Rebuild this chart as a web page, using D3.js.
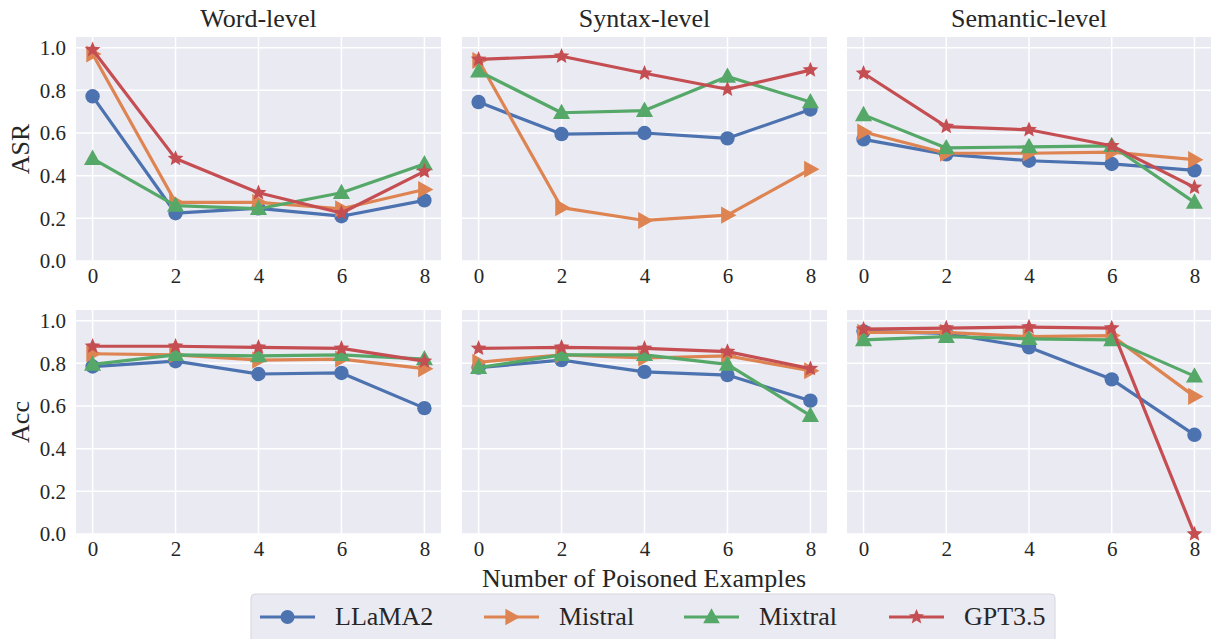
<!DOCTYPE html>
<html><head><meta charset="utf-8">
<script src="https://cdn.jsdelivr.net/npm/d3@7"></script>
<style>body{margin:0;background:#fff;} svg, svg text{font-family:'Liberation Serif','Times New Roman',Times,serif !important;}</style>
</head><body><svg id="c" width="1212" height="639"></svg>
<script>
const xs = [0, 2, 4, 6, 8];
const models = ["LLaMA2", "Mistral", "Mixtral", "GPT3.5"];
const levels = ["Word-level", "Syntax-level", "Semantic-level"];
const metrics = ["ASR", "Acc"];
const yTicks = [0.0, 0.2, 0.4, 0.6, 0.8, 1.0];
const colors = ["#4C72B0", "#DD8452", "#55A868", "#C44E52"];
const markers = ["circle", "right", "up", "star"];

// ASR
const asrWord = {
  LLaMA2: [0.772, 0.224, 0.247, 0.21, 0.284],
  Mistral: [0.97, 0.275, 0.275, 0.245, 0.335],
  Mixtral: [0.48, 0.26, 0.245, 0.32, 0.455],
  "GPT3.5": [0.99, 0.48, 0.32, 0.225, 0.42]
};
const asrSyntax = {
  LLaMA2: [0.745, 0.595, 0.60, 0.575, 0.71],
  Mistral: [0.94, 0.25, 0.19, 0.215, 0.43],
  Mixtral: [0.89, 0.695, 0.705, 0.865, 0.745],
  "GPT3.5": [0.945, 0.96, 0.88, 0.805, 0.895]
};
const asrSemantic = {
  LLaMA2: [0.57, 0.5, 0.47, 0.455, 0.425],
  Mistral: [0.605, 0.505, 0.505, 0.51, 0.475],
  Mixtral: [0.685, 0.53, 0.535, 0.54, 0.275],
  "GPT3.5": [0.88, 0.63, 0.615, 0.54, 0.345]
};
// Acc
const accWord = {
  LLaMA2: [0.785, 0.81, 0.75, 0.755, 0.59],
  Mistral: [0.845, 0.84, 0.815, 0.82, 0.775],
  Mixtral: [0.795, 0.84, 0.835, 0.84, 0.82],
  "GPT3.5": [0.88, 0.88, 0.875, 0.87, 0.81]
};
const accSyntax = {
  LLaMA2: [0.78, 0.815, 0.76, 0.745, 0.625],
  Mistral: [0.805, 0.84, 0.825, 0.835, 0.765],
  Mixtral: [0.78, 0.84, 0.84, 0.795, 0.555],
  "GPT3.5": [0.87, 0.875, 0.87, 0.855, 0.775]
};
const accSemantic = {
  LLaMA2: [0.95, 0.94, 0.875, 0.725, 0.465],
  Mistral: [0.945, 0.945, 0.925, 0.93, 0.645],
  Mixtral: [0.91, 0.925, 0.915, 0.91, 0.74],
  "GPT3.5": [0.96, 0.965, 0.97, 0.965, 0.0]
};
const panels = [[asrWord, asrSyntax, asrSemantic], [accWord, accSyntax, accSemantic]];

const svg = d3.select("#c");
const colX = [[76, 441], [462, 827], [847, 1211]];
const rowY = [[37, 261], [310, 534]];
const FF = "'Liberation Serif','Times New Roman',Times,serif";

function markerPath(type, size) {
  if (type === "circle") return d3.symbol(d3.symbolCircle, size * size * Math.PI)();
  if (type === "star") {
    const R = size * 1.15, r = R * 0.45; let p = [];
    for (let i = 0; i < 10; i++) {
      const a = -Math.PI / 2 + i * Math.PI / 5, rr = i % 2 ? r : R;
      p.push([rr * Math.cos(a), rr * Math.sin(a)]);
    }
    return "M" + p.map(d => d.join(",")).join("L") + "Z";
  }
  const s = size * 1.25;
  if (type === "up") return `M0,${-s}L${s*0.95},${s*0.7}L${-s*0.95},${s*0.7}Z`;
  if (type === "right") return `M${s},0L${-s*0.7},${s*0.95}L${-s*0.7},${-s*0.95}Z`;
}

panels.forEach((row, ri) => {
  row.forEach((data, ci) => {
    const x = d3.scaleLinear().domain([-0.4, 8.4]).range(colX[ci]);
    const y = d3.scaleLinear().domain([0, 1.05]).range([rowY[ri][1], rowY[ri][0]]);
    const g = svg.append("g");
    g.append("rect").attr("x", colX[ci][0]).attr("y", rowY[ri][0])
      .attr("width", colX[ci][1] - colX[ci][0]).attr("height", rowY[ri][1] - rowY[ri][0])
      .attr("fill", "#EAEAF2");
    g.selectAll(".gy").data(yTicks).join("line")
      .attr("x1", colX[ci][0]).attr("x2", colX[ci][1])
      .attr("y1", d => y(d)).attr("y2", d => y(d))
      .attr("stroke", "#fff").attr("stroke-width", 1.5);
    g.selectAll(".gx").data(xs).join("line")
      .attr("x1", d => x(d)).attr("x2", d => x(d))
      .attr("y1", rowY[ri][0]).attr("y2", rowY[ri][1])
      .attr("stroke", "#fff").attr("stroke-width", 1.5);
    const xa = g.append("g").attr("transform", `translate(0,${rowY[ri][1] + 5})`)
      .call(d3.axisBottom(x).tickValues(xs).tickSize(0).tickPadding(2).tickFormat(d3.format("d")));
    xa.attr("font-family", FF).attr("font-size", 21);
    xa.select(".domain").remove();
    xa.selectAll("text").attr("fill", "#262626");
    if (ci === 0) {
      const ya = g.append("g").attr("transform", `translate(${colX[ci][0] - 8},0)`)
        .call(d3.axisLeft(y).tickValues(yTicks).tickSize(0).tickPadding(2).tickFormat(d3.format(".1f")));
      ya.attr("font-family", FF).attr("font-size", 21);
      ya.select(".domain").remove();
      ya.selectAll("text").attr("fill", "#262626");
      svg.append("text").attr("transform", `translate(29,${(rowY[ri][0] + rowY[ri][1]) / 2}) rotate(-90)`)
        .attr("text-anchor", "middle").attr("font-size", 26).attr("fill", "#262626").text(metrics[ri]);
    }
    if (ri === 0) {
      svg.append("text").attr("x", (colX[ci][0] + colX[ci][1]) / 2).attr("y", 27)
        .attr("text-anchor", "middle").attr("font-size", 26).attr("fill", "#262626").text(levels[ci]);
    }
    const line = d3.line().x((d, i) => x(xs[i])).y(d => y(d));
    models.forEach((m, mi) => {
      const vals = data[m];
      g.append("path").attr("d", line(vals)).attr("fill", "none")
        .attr("stroke", colors[mi]).attr("stroke-width", 3.2).attr("stroke-linejoin", "round");
      g.selectAll(".m" + mi).data(vals).join("path")
        .attr("transform", (d, i) => `translate(${x(xs[i])},${y(d)})`)
        .attr("d", markerPath(markers[mi], 7.2)).attr("fill", colors[mi]);
    });
  });
});

svg.append("text").attr("x", 644).attr("y", 587).attr("text-anchor", "middle")
  .attr("font-size", 26).attr("fill", "#262626").text("Number of Poisoned Examples");

const lg = svg.append("g");
lg.append("rect").attr("x", 251).attr("y", 594).attr("width", 804).attr("height", 56).attr("rx", 4)
  .attr("fill", "#EAEAF2").attr("stroke", "#d5d5dc").attr("stroke-width", 1);
const legX = [260, 484, 684, 889];
models.forEach((m, mi) => {
  const lx = legX[mi], ly = 617;
  lg.append("line").attr("x1", lx).attr("x2", lx + 55).attr("y1", ly).attr("y2", ly)
    .attr("stroke", colors[mi]).attr("stroke-width", 3.2);
  lg.append("path").attr("transform", `translate(${lx + 27.5},${ly})`).attr("d", markerPath(markers[mi], 7)).attr("fill", colors[mi]);
  lg.append("text").attr("x", lx + 75).attr("y", ly + 8).attr("font-size", 26).attr("fill", "#262626").text(m);
});
</script></body></html>
